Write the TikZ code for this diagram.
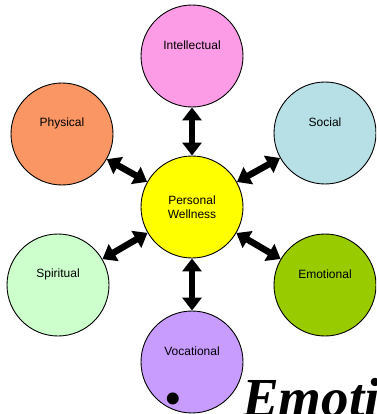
\documentclass[tikz,border=0pt]{standalone}
\usepackage{fontspec}
\setmainfont{Liberation Sans}
\newfontfamily\slidefont{Liberation Serif}
\usetikzlibrary{arrows.meta}
\definecolor{intelpink}{RGB}{252,155,230}
\definecolor{physorange}{RGB}{250,150,100}
\definecolor{socialblue}{RGB}{182,224,230}
\definecolor{corelemon}{RGB}{255,255,0}
\definecolor{spiritgreen}{RGB}{204,255,204}
\definecolor{emoolive}{RGB}{153,204,0}
\definecolor{vocalilac}{RGB}{200,155,255}

\begin{document}
\begin{tikzpicture}[x=1pt, y=-1pt,
      area/.style={circle, draw=black, line width=0.9pt,
                   minimum size=102pt, inner sep=0pt},
      lbl/.style={font=\fontsize{12}{14.5}\selectfont, yshift=11pt},
      link/.style={{Triangle[length=13pt,width=19pt]}-{Triangle[length=13pt,width=19pt]},
                   line width=6.5pt, black}
  ]
    \useasboundingbox (0,0) rectangle (376,414);
    \clip (0,0) rectangle (376,414);
    % the six areas round the core
    \node[area, fill=corelemon, align=center, font=\fontsize{12}{14.5}\selectfont]
         (core) at (192,207) {Personal\\Wellness};
    \node[area, fill=intelpink,   label={[lbl]center:Intellectual}] (intel)  at (192,56)  {};
    \node[area, fill=physorange,  label={[lbl]center:Physical}]     (phys)   at (62,134)  {};
    \node[area, fill=socialblue,  label={[lbl]center:Social}]       (social) at (325,133) {};
    \node[area, fill=spiritgreen, label={[lbl]center:Spiritual}]    (spirit) at (58,285)  {};
    \node[area, fill=emoolive,    label={[lbl]center:Emotional}]    (emo)    at (325,285) {};
    \node[area, fill=vocalilac,   label={[lbl]center:Vocational}]   (voc)    at (192,362) {};
    \draw[link] (core)--(intel);
    \draw[link] (core)--(phys);
    \draw[link] (core)--(social);
    \draw[link] (core)--(spirit);
    \draw[link] (core)--(emo);
    \draw[link] (core)--(voc);
    % slide text behind
    \node[font=\slidefont\fontsize{50}{50}\selectfont, inner sep=0pt] (dot) at (173,404) {\textbullet};
    \node[font=\slidefont\bfseries\itshape\fontsize{55}{55}\selectfont,
          anchor=base west, inner sep=0pt] (emohead) at (242,416) {Emotional};
  \end{tikzpicture}
\end{document}
